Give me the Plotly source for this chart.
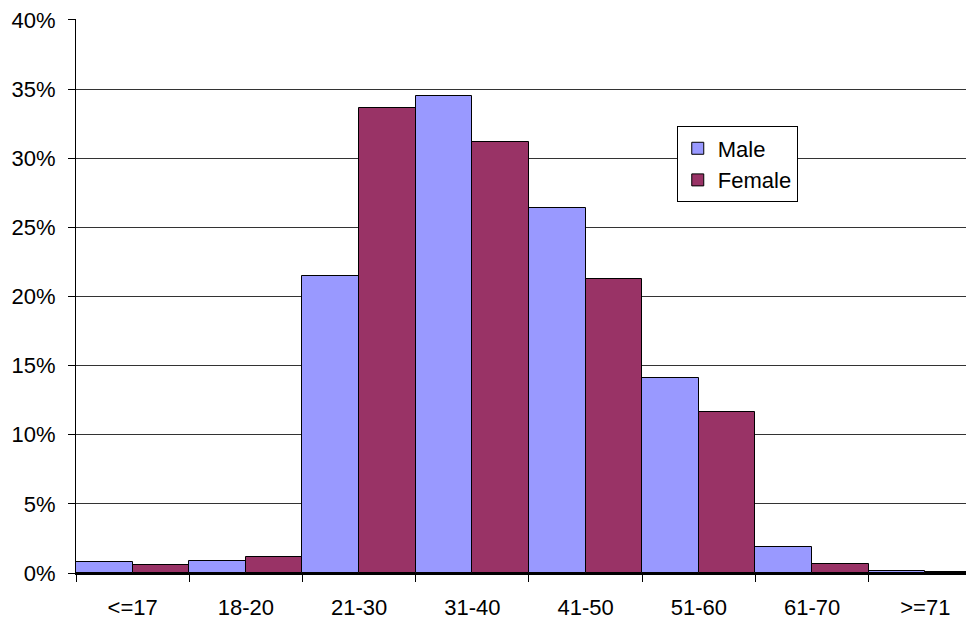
import plotly.graph_objects as go

categories = ["<=17", "18-20", "21-30", "31-40", "41-50", "51-60", "61-70", ">=71"]
male = [0.8, 0.87, 21.5, 34.5, 26.4, 14.1, 1.85, 0.12]
female = [0.6, 1.13, 33.6, 31.15, 21.3, 11.65, 0.65, 0.06]
y_ticks = [0, 5, 10, 15, 20, 25, 30, 35, 40]
y_tick_labels = [f"{v}%" for v in y_ticks]

fig = go.Figure()
fig.add_trace(go.Bar(name="Male", x=categories, y=male,
                     marker=dict(color="#9999FF", line=dict(color="black", width=1))))
fig.add_trace(go.Bar(name="Female", x=categories, y=female,
                     marker=dict(color="#993366", line=dict(color="black", width=1))))

fig.update_layout(
    width=966, height=612,
    margin=dict(l=68, r=0, t=11, b=47),
    paper_bgcolor="white", plot_bgcolor="white",
    barmode="group", bargap=0, bargroupgap=0,
    font=dict(family="Liberation Sans, Arial, sans-serif", size=22, color="black"),
    showlegend=True,
    legend=dict(x=0.669, y=0.806, xanchor="left", yanchor="top",
                bgcolor="white", bordercolor="black", borderwidth=1,
                font=dict(size=22), tracegroupgap=0, itemwidth=30),
)
fig.update_xaxes(
    type="category", range=[-0.5, 7.43],
    showline=True, linecolor="black", linewidth=2,
    ticks="outside", tickson="boundaries", ticklen=7, tickcolor="black",
    ticklabelstandoff=14,
    showgrid=False, zeroline=False,
)
fig.update_yaxes(
    range=[0, 40.07], tickvals=y_ticks, ticktext=y_tick_labels,
    showline=True, linecolor="black", linewidth=1,
    ticks="outside", ticklen=7, tickcolor="black",
    ticklabelstandoff=8, ticklabeloverflow="allow",
    showgrid=True, gridcolor="#333333", gridwidth=1, zeroline=False,
)

fig.write_html("out.html")
